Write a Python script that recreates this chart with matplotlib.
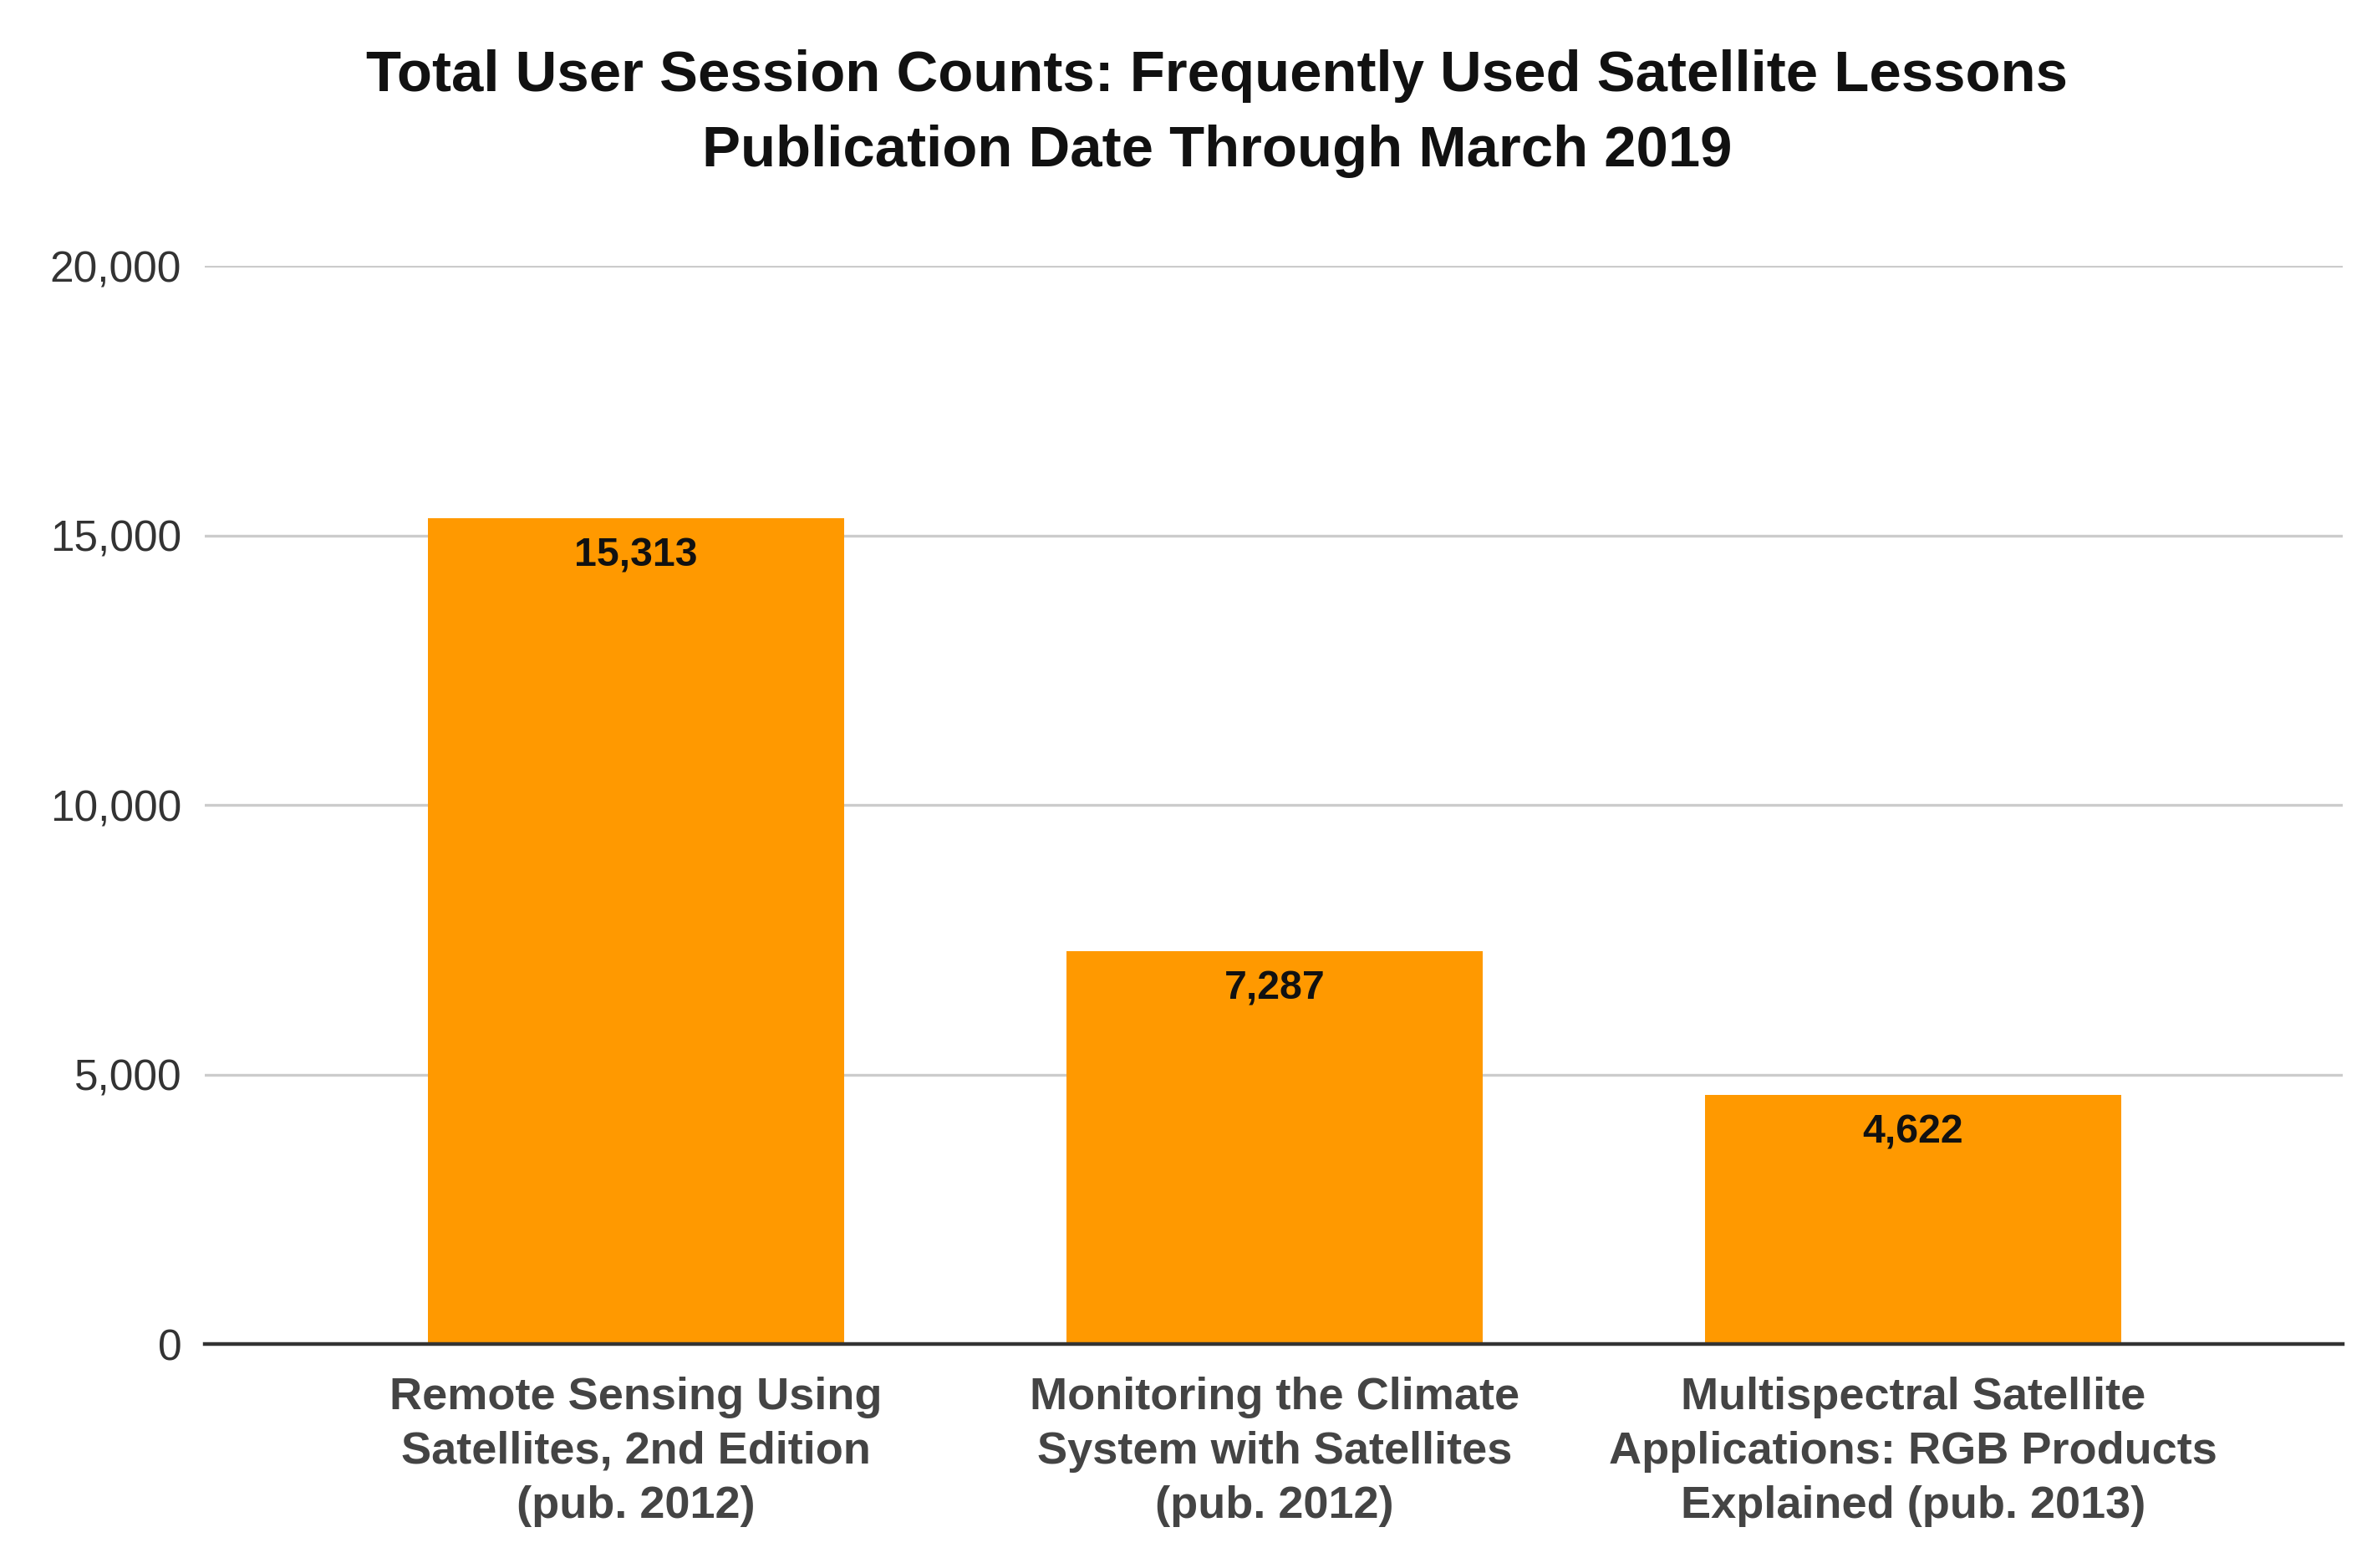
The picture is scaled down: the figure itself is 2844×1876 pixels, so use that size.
import matplotlib
matplotlib.use("Agg")
import matplotlib.pyplot as plt
from matplotlib.ticker import FuncFormatter

categories = [
    "Remote Sensing Using\nSatellites, 2nd Edition\n(pub. 2012)",
    "Monitoring the Climate\nSystem with Satellites\n(pub. 2012)",
    "Multispectral Satellite\nApplications: RGB Products\nExplained (pub. 2013)",
]
sessions = [15313, 7287, 4622]
yticks = [0, 5000, 10000, 15000, 20000]

plt.rcParams['font.family'] = ['Liberation Sans', 'DejaVu Sans']

W, H, DPI = 2844, 1876, 200
fig = plt.figure(figsize=(W / DPI, H / DPI), dpi=DPI)
left, right = 245 / W, 2803 / W
bottom, top = 1 - 1608 / H, 1 - 318 / H
ax = fig.add_axes([left, bottom, right - left, top - bottom])

x = range(len(categories))
bars = ax.bar(x, sessions, width=0.652, color="#FF9900", zorder=3)
ax.set_xlim(-0.675, len(categories) - 1 + 0.673)
ax.set_ylim(0, 20000)
ax.set_yticks(yticks)
ax.yaxis.set_major_formatter(FuncFormatter(lambda v, p: f"{int(v):,}"))
ax.grid(axis="y", color="#cccccc", linewidth=1.2, zorder=0)
for s in ["top", "right", "left"]:
    ax.spines[s].set_visible(False)
ax.spines["bottom"].set_color("#333333")
ax.spines["bottom"].set_linewidth(1.6)
ax.spines["bottom"].set_zorder(4)
ax.tick_params(axis="y", length=0, pad=10, labelsize=18.5, labelcolor="#333333")
ax.tick_params(axis="x", length=0, pad=14)
ax.set_xticks(list(x))
ax.set_xticklabels(categories, fontsize=19.5, fontweight="bold", color="#444444",
                   linespacing=1.38)

for b, v in zip(bars, sessions):
    ax.annotate(f"{v:,}", (b.get_x() + b.get_width() / 2, v),
                xytext=(0, -8), textcoords="offset points",
                ha="center", va="top", fontsize=17.4, fontweight="bold",
                color="#111111", zorder=5)

fig.text(0.512, 1 - 91 / H, "Total User Session Counts: Frequently Used Satellite Lessons",
         ha="center", va="center", fontsize=24.8, fontweight="bold", color="#111111")
fig.text(0.512, 1 - 181 / H, "Publication Date Through March 2019",
         ha="center", va="center", fontsize=24.8, fontweight="bold", color="#111111")

fig.savefig("out.png", dpi=DPI, facecolor="white")
